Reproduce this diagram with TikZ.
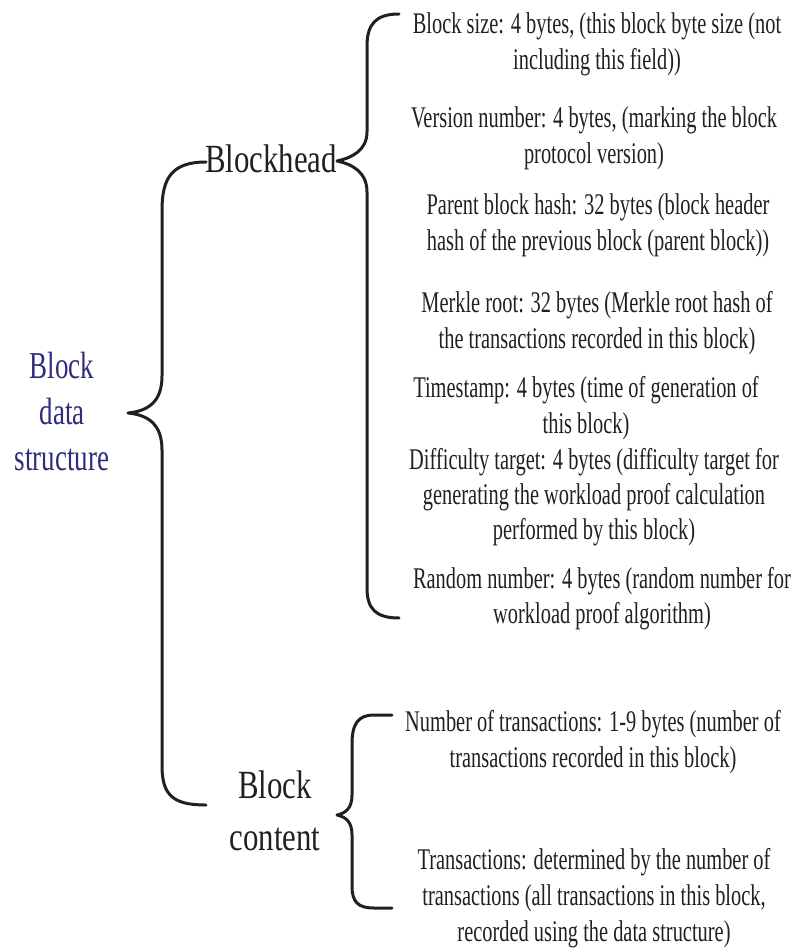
\documentclass[tikz,border=0pt]{standalone}
\usepackage{fontspec}
\setmainfont{Liberation Serif}[FakeStretch=0.68]
\newfontfamily\headfont{Liberation Serif}[FakeStretch=0.77]
\newfontfamily\rootfont{Liberation Serif}[FakeStretch=0.71]
\definecolor{ink}{RGB}{35,31,32}
\definecolor{titleblue}{RGB}{46,45,125}

\begin{document}
\begin{tikzpicture}[x=1pt,y=-1pt,
  brace/.style={line width=3pt, line cap=round, line join=round, draw=ink},
  field/.style={align=center, inner sep=0pt, anchor=north, text=ink,
                font=\fontsize{30}{36}\selectfont},
  part/.style={align=center, inner sep=0pt, text=ink,
               font=\headfont\fontsize{40}{52}\selectfont}
]
\path[use as bounding box] (0,0) rectangle (794,949);

% root label
\node[part, anchor=north, text=titleblue, font=\rootfont\fontsize{38}{46}\selectfont]
  (root) at (62,352) {Block\\data\\structure};

% second level
\node[part, anchor=base] (head) at (271,173) {Blockhead};
\node[part, anchor=north] (content) at (275,771) {Block\\content};

% block header fields
\node[field] (size) at (597,12) {Block size: 4 bytes, (this block byte size (not\\including this field))};
\node[field] (version) at (594,106) {Version number: 4 bytes, (marking the block\\protocol version)};
\node[field] (parent) at (598,193) {Parent block hash: 32 bytes (block header\\hash of the previous block (parent block))};
\node[field] (merkle) at (597,291) {Merkle root: 32 bytes (Merkle root hash of\\the transactions recorded in this block)};
\node[field] (time) at (586,376) {Timestamp: 4 bytes (time of generation of\\this block)};
\node[field, font=\fontsize{30}{35}\selectfont] (target) at (594,448) {Difficulty target: 4 bytes (difficulty target for\\generating the workload proof calculation\\performed by this block)};
\node[field, font=\fontsize{30}{35}\selectfont] (nonce) at (602,567) {Random number: 4 bytes (random number for\\workload proof algorithm)};

% block body fields
\node[field] (ntx) at (593,710) {Number of transactions: 1-9 bytes (number of\\transactions recorded in this block)};
\node[field] (tx) at (594,848) {Transactions: determined by the number of\\transactions (all transactions in this block,\\recorded using the data structure)};

% brace grouping the two parts
\draw[brace] (206,162) .. controls (172,162) and (162,178) .. (162,210)
  -- (162,376) .. controls (162,402) and (148,411) .. (128,413)
  .. controls (148,415) and (162,424) .. (162,450)
  -- (162,766) .. controls (162,796) and (174,805) .. (206,805);

% brace of the header fields
\draw[brace] (399,14) .. controls (376,14) and (367,24) .. (367,46)
  -- (367,132) .. controls (367,150) and (352,158) .. (337,161)
  .. controls (352,164) and (367,172) .. (367,192)
  -- (367,588) .. controls (367,609) and (376,618) .. (399,618);

% brace of the body fields
\draw[brace] (392,715) -- (374,715) .. controls (358,715) and (352,724) .. (352,744)
  -- (352,795) .. controls (352,808) and (346,813) .. (337,815)
  .. controls (346,817) and (352,822) .. (352,835)
  -- (352,886) .. controls (352,902) and (358,908) .. (374,908) -- (392,908);
\end{tikzpicture}
\end{document}
